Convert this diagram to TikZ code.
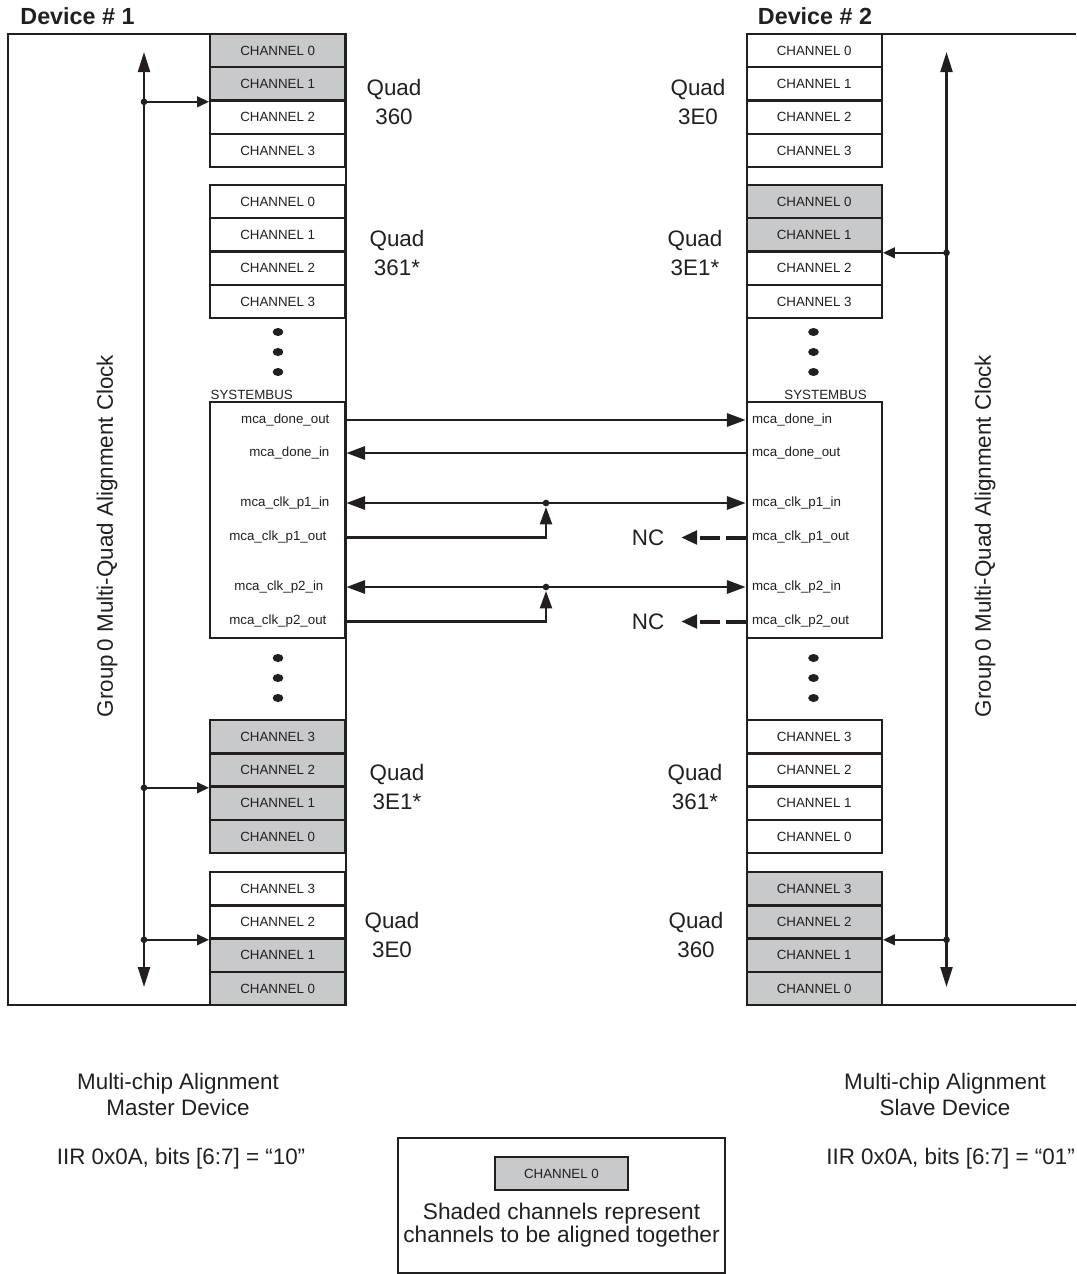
\documentclass[tikz,border=0pt]{standalone}
\usepackage{fontspec}
\setmainfont{Liberation Sans}
\usetikzlibrary{arrows.meta}
\definecolor{chgray}{RGB}{200,201,203}
\definecolor{ink}{RGB}{35,31,32}

\begin{document}
\begin{tikzpicture}[x=0.75pt, y=-0.75pt,
  chan/.style={draw=ink, line width=1.8pt, minimum width=101.25pt,
               minimum height=24.98pt, inner sep=0pt, text=ink,
               font=\fontsize{10}{12}\selectfont},
  sysbox/.style={draw=ink, line width=1.8pt, fill=white,
                 minimum width=101.25pt, minimum height=177pt, inner sep=0pt},
  small/.style={text=ink, inner sep=1pt, font=\fontsize{10}{12}\selectfont},
  quadlbl/.style={text=ink, align=center, inner sep=0pt,
                  font=\fontsize{16.8}{21.75}\selectfont},
  big/.style={text=ink, align=center, inner sep=0pt,
              font=\fontsize{16.8}{19.5}\selectfont},
  devlbl/.style={text=ink, inner sep=0pt, font=\fontsize{17.5}{20}\selectfont\bfseries},
  dev/.style={draw=ink, line width=1.5pt},
  sig/.style={draw=ink, line width=1.6pt},
  sigarr/.style={sig, -{Triangle[length=14pt,width=10pt]}},
  sigbi/.style={sig, {Triangle[length=14pt,width=10pt]}-{Triangle[length=14pt,width=10pt]}},
  uparr/.style={sig, -{Triangle[length=13pt,width=9pt]}, shorten >=3pt},
  clk/.style={sig, {Triangle[length=15pt,width=9pt]}-{Triangle[length=15pt,width=9pt]}},
  brn/.style={sig, -{Triangle[length=9pt,width=8pt]}},
  dot/.style={circle, fill=ink, inner sep=0pt, minimum size=5pt},
  ncarr/.style={draw=ink, line width=3pt, dash pattern=on 15pt off 4.5pt,
                -{Triangle[length=12pt,width=10pt]}, shorten >=12.5pt}
]
  \useasboundingbox (0,0) rectangle (1076,1274);

  % Device outlines
  \draw[dev] (8,34) rectangle (345.5,1005);
  \draw[dev] (1076,34) -- (747,34) -- (747,1005) -- (1076,1005);
  \node[devlbl] (dev1) at (77.5,16) {Device \# 1};
  \node[devlbl] (dev2) at (815,16) {Device \# 2};

  % Device 1 quads
  \foreach \k/\c/\f in {0/0/chgray,1/1/chgray,2/2/white,3/3/white}
    \node[chan, fill=\f] (L360c\c) at (277.75,{50.65+33.3*\k}) {CHANNEL \c};
  \foreach \k/\c/\f in {0/0/white,1/1/white,2/2/white,3/3/white}
    \node[chan, fill=\f] (L361c\c) at (277.75,{201.65+33.3*\k}) {CHANNEL \c};
  \foreach \k/\c/\f in {0/3/chgray,1/2/chgray,2/1/chgray,3/0/chgray}
    \node[chan, fill=\f] (L3E1c\c) at (277.75,{736.65+33.3*\k}) {CHANNEL \c};
  \foreach \k/\c/\f in {0/3/white,1/2/white,2/1/chgray,3/0/chgray}
    \node[chan, fill=\f] (L3E0c\c) at (277.75,{888.65+33.3*\k}) {CHANNEL \c};

  % Device 2 quads
  \foreach \k/\c/\f in {0/0/white,1/1/white,2/2/white,3/3/white}
    \node[chan, fill=\f] (R3E0c\c) at (814.25,{50.65+33.3*\k}) {CHANNEL \c};
  \foreach \k/\c/\f in {0/0/chgray,1/1/chgray,2/2/white,3/3/white}
    \node[chan, fill=\f] (R3E1c\c) at (814.25,{201.65+33.3*\k}) {CHANNEL \c};
  \foreach \k/\c/\f in {0/3/white,1/2/white,2/1/white,3/0/white}
    \node[chan, fill=\f] (R361c\c) at (814.25,{736.65+33.3*\k}) {CHANNEL \c};
  \foreach \k/\c/\f in {0/3/chgray,1/2/chgray,2/1/chgray,3/0/chgray}
    \node[chan, fill=\f] (R360c\c) at (814.25,{888.65+33.3*\k}) {CHANNEL \c};

  % Quad labels
  \node[quadlbl] (qL360) at (394,101.5) {Quad\\360};
  \node[quadlbl] (qL361) at (397,252.5) {Quad\\361*};
  \node[quadlbl] (qL3E1) at (397,787)   {Quad\\3E1*};
  \node[quadlbl] (qL3E0) at (392,934.5) {Quad\\3E0};
  \node[quadlbl] (qR3E0) at (698,101.5) {Quad\\3E0};
  \node[quadlbl] (qR3E1) at (695,252.5) {Quad\\3E1*};
  \node[quadlbl] (qR361) at (695,787)   {Quad\\361*};
  \node[quadlbl] (qR360) at (696,934.5) {Quad\\360};

  % Ellipsis dots
  \foreach \x in {278,813.5}
    \foreach \y in {332,352,372,658,678,698}
      \fill[ink] (\x,\y) ellipse (4pt and 3pt);

  % Systembus blocks
  \node[sysbox] (sbL) at (277.75,520) {};
  \node[sysbox] (sbR) at (814.25,520) {};
  \node[small, anchor=south west] (sbLt) at (sbL.north west) {SYSTEMBUS};
  \node[small, anchor=south east] (sbRt) at ([xshift=-11pt]sbR.north east) {SYSTEMBUS};

  % Master signals
  \node[small, anchor=east] (Ldo)  at (331,420)   {mca\_done\_out};
  \node[small, anchor=east] (Ldi)  at (331,453)   {mca\_done\_in};
  \node[small, anchor=east] (Lc1i) at (331,503)   {mca\_clk\_p1\_in};
  \node[small, anchor=east] (Lc1o) at (328,537.5) {mca\_clk\_p1\_out};
  \node[small, anchor=east] (Lc2i) at (325,587)   {mca\_clk\_p2\_in};
  \node[small, anchor=east] (Lc2o) at (328,621.5) {mca\_clk\_p2\_out};

  % Slave signals
  \node[small, anchor=west] (Rdi)  at (750.5,420)   {mca\_done\_in};
  \node[small, anchor=west] (Rdo)  at (750.5,453)   {mca\_done\_out};
  \node[small, anchor=west] (Rc1i) at (750.5,503)   {mca\_clk\_p1\_in};
  \node[small, anchor=west] (Rc1o) at (750.5,537.5) {mca\_clk\_p1\_out};
  \node[small, anchor=west] (Rc2i) at (750.5,587)   {mca\_clk\_p2\_in};
  \node[small, anchor=west] (Rc2o) at (750.5,621.5) {mca\_clk\_p2\_out};

  % Links between devices
  \coordinate (j1) at (546,503);
  \coordinate (j2) at (546,587);
  \draw[sigarr] (sbL.east |- Ldo) -- (sbR.west |- Rdi);
  \draw[sigarr] (sbR.west |- Rdo) -- (sbL.east |- Ldi);
  \draw[sigbi]  (sbL.east |- Lc1i) -- (sbR.west |- Rc1i);
  \draw[sigbi]  (sbL.east |- Lc2i) -- (sbR.west |- Rc2i);
  \draw[uparr]  (sbL.east |- Lc1o) -| (j1);
  \draw[uparr]  (sbL.east |- Lc2o) -| (j2);
  \node[dot] at (j1) {};
  \node[dot] at (j2) {};

  % Unconnected outputs
  \node[big] (nc1) at (648,537.5) {NC};
  \node[big] (nc2) at (648,621.5) {NC};
  \draw[ncarr] (sbR.west |- Rc1o) -- (nc1.east);
  \draw[ncarr] (sbR.west |- Rc2o) -- (nc2.east);

  % Alignment clocks
  \coordinate (clkLt) at (144,52);
  \coordinate (clkLb) at (144,987);
  \coordinate (clkRt) at (946.5,52);
  \coordinate (clkRb) at (946.5,987);
  \draw[clk] (clkLt) -- (clkLb);
  \draw[clk] (clkRt) -- (clkRb);
  \draw[brn] (clkLt |- L360c1.south west) node[dot]{} -- (L360c1.south west);
  \draw[brn] (clkLt |- L3E1c2.south west) node[dot]{} -- (L3E1c2.south west);
  \draw[brn] (clkLt |- L3E0c2.south west) node[dot]{} -- (L3E0c2.south west);
  \draw[brn] (clkRt |- R3E1c1.south east) node[dot]{} -- (R3E1c1.south east);
  \draw[brn] (clkRt |- R360c2.south east) node[dot]{} -- (R360c2.south east);
  \node[big, rotate=90] (clkLtxt) at (107,536) {Group\,0 Multi-Quad Alignment Clock};
  \node[big, rotate=90] (clkRtxt) at (985,536) {Group\,0 Multi-Quad Alignment Clock};

  % Notes
  \node[big] (mstr) at (178,1094) {Multi-chip Alignment\\Master Device};
  \node[big] (slv)  at (945,1094) {Multi-chip Alignment\\Slave Device};
  \node[big] (iirL) at (181,1159) {IIR 0x0A, bits [6:7] = “10”};
  \node[big, anchor=east] (iirR) at (1075,1159) {IIR 0x0A, bits [6:7] = “01”};

  % Legend
  \node[dev, minimum width=245.25pt, minimum height=101.25pt, inner sep=0pt]
    (legend) at (561.5,1205.5) {};
  \node[chan, fill=chgray, minimum width=99.75pt] (legch) at (561.5,1173.5) {CHANNEL 0};
  \node[big, font=\fontsize{17}{17.5}\selectfont] (legtxt) at (561.5,1225)
    {Shaded channels represent\\channels to be aligned together};

\end{tikzpicture}
\end{document}
